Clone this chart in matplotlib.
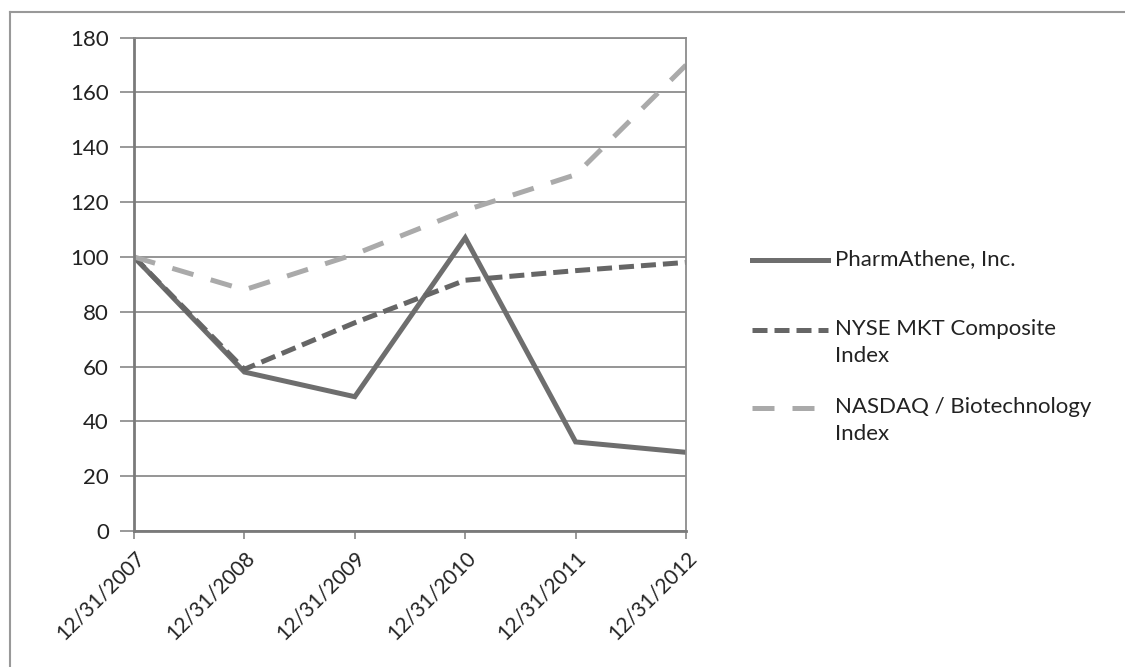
import matplotlib.pyplot as plt
from matplotlib.lines import Line2D

plt.rcParams['font.family'] = ['Lato', 'DejaVu Sans']

dates = ['12/31/2007', '12/31/2008', '12/31/2009', '12/31/2010', '12/31/2011', '12/31/2012']
pharmathene = [100, 58, 49, 107, 32.5, 28.7]
nyse_mkt = [100, 59, 76, 91.5, 95, 98]
nasdaq_bio = [100, 88, 101, 117, 130, 170]
yticks = [0, 20, 40, 60, 80, 100, 120, 140, 160, 180]

names = ['PharmAthene, Inc.', 'NYSE MKT Composite\nIndex', 'NASDAQ / Biotechnology\nIndex']
colors = ['#6e6e6e', '#666666', '#aaaaaa']
dashes = [None, (3.0, 1.4), (4.4, 3.6)]

fig = plt.figure(figsize=(11.25, 6.67), dpi=100)
ax = fig.add_axes([0.1191, 0.2039, 0.4907, 0.7396])

x = list(range(len(dates)))
series = [pharmathene, nyse_mkt, nasdaq_bio]
for vals, c, d in zip(series, colors, dashes):
    line, = ax.plot(x, vals, color=c, lw=3.6, solid_joinstyle='miter')
    if d is not None:
        line.set_dashes(d)
        line.set_dash_capstyle('butt')

ax.set_xlim(0, len(dates) - 1)
ax.set_ylim(0, 180)
ax.set_yticks(yticks)
ax.set_xticks(x)
ax.set_xticklabels(dates, rotation=45, ha='right', rotation_mode='anchor', fontsize=15, color='#222222')
ax.tick_params(axis='y', labelsize=16, labelcolor='#222222', length=10, width=1.2, color='#888888', pad=8)
ax.tick_params(axis='x', length=6, width=1.2, color='#888888', pad=6)
ax.grid(axis='y', color='#8c8c8c', lw=1.3)
ax.set_axisbelow(True)
for s in ax.spines.values():
    s.set_color('#8c8c8c')
    s.set_linewidth(1.3)
ax.spines['left'].set_linewidth(2)
ax.spines['bottom'].set_linewidth(2)
ax.spines['left'].set_color('#7a7a7a')
ax.spines['bottom'].set_color('#7a7a7a')

# legend drawn by hand so the handle sits on the first text line
W, H = 1125, 667
leg_y = [260, 330, 408]
for name, c, d, y in zip(names, colors, dashes, leg_y):
    yf = 1 - y / H
    ln = Line2D([752 / W, 828 / W], [yf, yf], color=c, lw=3.6, transform=fig.transFigure)
    if d is not None:
        ln.set_dashes(d)
        ln.set_dash_capstyle('butt')
    fig.add_artist(ln)
    fig.text(835 / W, yf + 11 / H, name, fontsize=16, color='#222222', va='top',
             linespacing=1.45)

# outer frame (top and left edges visible)
fig.add_artist(Line2D([10 / W, 1], [1 - 12 / H, 1 - 12 / H], color='#999999', lw=1.5,
                      transform=fig.transFigure))
fig.add_artist(Line2D([10 / W, 10 / W], [0, 1 - 12 / H], color='#999999', lw=1.5,
                      transform=fig.transFigure))

fig.savefig('out.png', dpi=100)
